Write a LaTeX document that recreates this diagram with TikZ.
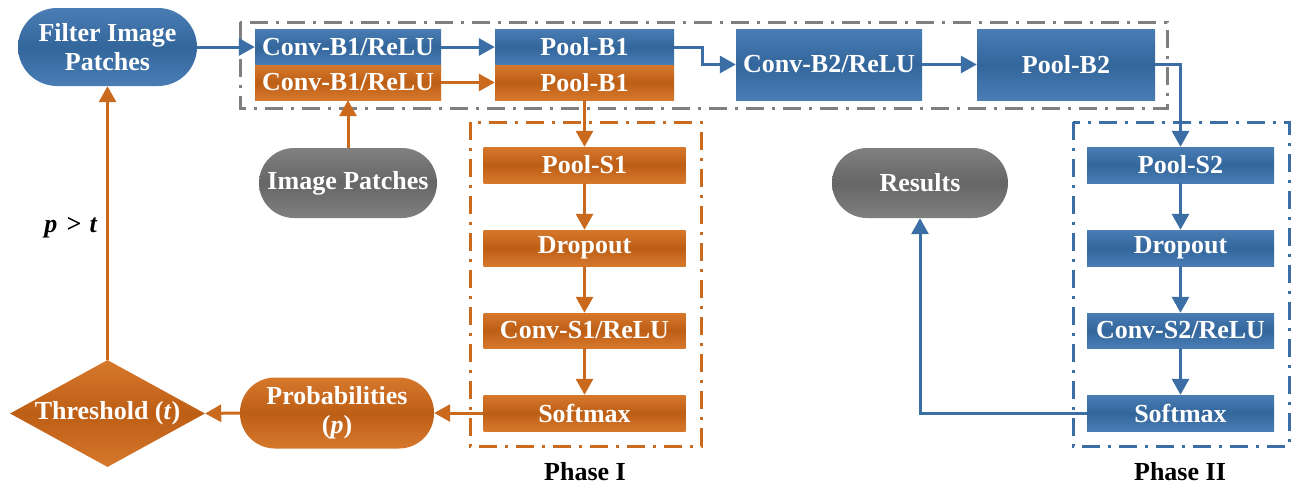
\documentclass[tikz,border=0pt]{standalone}
\usepackage{fontspec}
\setmainfont{Liberation Serif}
\usetikzlibrary{arrows.meta,shapes.geometric}
\definecolor{bl}{HTML}{3A6EA5}
\definecolor{blT}{HTML}{4A7DB4}
\definecolor{blM}{HTML}{33669B}
\definecolor{orT}{HTML}{D6782C}
\definecolor{orM}{HTML}{BD5E15}
\definecolor{or}{HTML}{C96A1E}
\definecolor{gyT}{HTML}{808080}
\definecolor{gyM}{HTML}{666666}
\definecolor{gy}{HTML}{717171}
\definecolor{frame}{HTML}{7F7F7F}
\begin{document}
\begin{tikzpicture}[x=1pt,y=-1pt,
  every node/.style={font=\fontsize{26}{29}\selectfont\bfseries, text=white, inner sep=0pt, align=center},
  bluebox/.style={rectangle, top color=blT, bottom color=blT, middle color=blM, draw=none},
  orbox/.style={rectangle, top color=orT, bottom color=orT, middle color=orM, draw=none},
  graybox/.style={rectangle, top color=gyT, bottom color=gyT, middle color=gyM, draw=none},
  barrow/.style={draw=bl, line width=3pt, -{Triangle[length=16pt,width=17pt]}},
  oarrow/.style={draw=or, line width=3pt, -{Triangle[length=16pt,width=17pt]}},
  dframe/.style={line width=3pt, dash pattern=on 18pt off 8pt on 3pt off 8pt},
  lbl/.style={text=black, font=\fontsize{26}{29}\selectfont\bfseries}
]
\useasboundingbox (0,0) rectangle (1294,485);

% frames
\draw[dframe, draw=frame] (240,22) rectangle (1167,108);
\draw[dframe, draw=or] (470,122) rectangle (701,446);
\draw[dframe, draw=bl] (1073,122) rectangle (1289,446);

% top row
\node[bluebox, rounded corners=39pt, minimum width=179pt, minimum height=78pt] (filt) at (107.5,47) {Filter Image\\Patches};
\node[bluebox, minimum width=186pt, minimum height=36pt] (cb1b) at (348,47) {Conv-B1/ReLU};
\node[orbox, minimum width=186pt, minimum height=35pt] (cb1o) at (348,82.5) {Conv-B1/ReLU};
\node[bluebox, minimum width=179pt, minimum height=36pt] (pb1b) at (584.5,47) {Pool-B1};
\node[orbox, minimum width=179pt, minimum height=35pt] (pb1o) at (584.5,82.5) {Pool-B1};
\node[bluebox, minimum width=186pt, minimum height=71pt] (cb2) at (829,64.5) {Conv-B2/ReLU};
\node[bluebox, minimum width=178pt, minimum height=71pt] (pb2) at (1066,64.5) {Pool-B2};

% gray
\node[graybox, rounded corners=35pt, minimum width=178pt, minimum height=70pt] (imgp) at (348,183) {Image Patches};
\node[graybox, rounded corners=35pt, minimum width=176pt, minimum height=70pt] (res) at (920,183) {Results};

% phase I
\node[orbox, minimum width=202pt, minimum height=36pt] (ps1) at (584.5,165) {Pool-S1};
\node[orbox, minimum width=202pt, minimum height=36pt] (do1) at (584.5,248) {Dropout};
\node[orbox, minimum width=202pt, minimum height=35pt] (cs1) at (584.5,330.5) {Conv-S1/ReLU};
\node[orbox, minimum width=202pt, minimum height=36pt] (sm1) at (584.5,413) {Softmax};
\node[lbl] (ph1) at (585,472) {Phase I};

% phase II
\node[bluebox, minimum width=187pt, minimum height=36pt] (ps2) at (1180.5,165) {Pool-S2};
\node[bluebox, minimum width=187pt, minimum height=36pt] (do2) at (1180.5,248) {Dropout};
\node[bluebox, minimum width=187pt, minimum height=35pt] (cs2) at (1180.5,330.5) {Conv-S2/ReLU};
\node[bluebox, minimum width=187pt, minimum height=36pt] (sm2) at (1180.5,413) {Softmax};
\node[lbl] (ph2) at (1180,472) {Phase II};

% bottom left
\node[orbox, rounded corners=35pt, minimum width=194pt, minimum height=71pt] (prob) at (337,413) {Probabilities\\(\textit{p})};
\node[orbox, diamond, minimum width=195pt, minimum height=107pt] (thr) at (107.5,413.5) {\makebox[0pt]{Threshold (\textit{t})}};
\node[lbl] (pt) at (71,228) {\textit{p\,\,>\,\,t}};

% connectors
\draw[barrow] (filt.east) -- (cb1b.west);
\draw[barrow] (cb1b.east) -- (pb1b.west);
\draw[oarrow] (cb1o.east) -- (pb1o.west);
\draw[barrow] (pb1b.east) -- ++(28,0) |- (cb2.west);
\draw[barrow] (cb2.east) -- (pb2.west);
\draw[barrow] (pb2.east) -| (ps2.north);
\draw[oarrow] (pb1o.south) -- (ps1.north);
\draw[oarrow] (ps1) -- (do1);
\draw[oarrow] (do1) -- (cs1);
\draw[oarrow] (cs1) -- (sm1);
\draw[oarrow] (sm1.west) -- (prob.east);
\draw[oarrow] (prob.west) -- (thr.east);
\draw[oarrow] (thr.north) -- (filt.south);
\draw[oarrow] (imgp.north) -- (cb1o.south);
\draw[barrow] (ps2) -- (do2);
\draw[barrow] (do2) -- (cs2);
\draw[barrow] (cs2) -- (sm2);
\draw[barrow] (sm2.west) -| (res.south);
\end{tikzpicture}
\end{document}
